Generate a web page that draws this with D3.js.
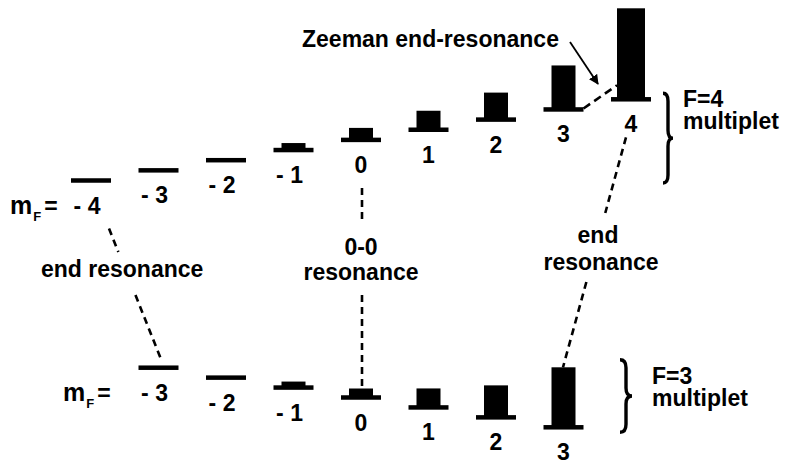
<!DOCTYPE html>
<html>
<head>
<meta charset="utf-8">
<script src="https://cdn.jsdelivr.net/npm/d3@7"></script>
<style>
  body { margin: 0; background: #fff; }
  svg text { font-family: "Liberation Sans", Arial, sans-serif; font-weight: bold; fill: #000; font-size: 23px; }
</style>
</head>
<body>
<svg id="chart"></svg>
<script>
// magnetic sublevels m_F and relative populations (bar heights)
var upperM = [-4, -3, -2, -1, 0, 1, 2, 3, 4];
var upperPop = [0, 0, 0, 7, 12, 19, 27, 44, 91];
var upperLabels = ["- 4", "- 3", "- 2", "- 1", "0", "1", "2", "3", "4"];
var lowerM = [-3, -2, -1, 0, 1, 2, 3];
var lowerPop = [0, 0, 6, 9, 19, 32, 60];
var lowerLabels = ["- 3", "- 2", "- 1", "0", "1", "2", "3"];

var width = 787, height = 463;
var svg = d3.select("#chart").attr("width", width).attr("height", height);

var x = d3.scaleLinear().domain([-4, 4]).range([91, 631]);
var yUp = d3.scaleLinear().domain([-4, 4]).range([180.5, 99.3]);
var yLo = d3.scaleLinear().domain([-3, 3]).range([367.7, 427.3]);
var hScale = d3.scaleLinear().domain([0, 100]).range([0, 100]);

var lineW = 40, lineT = 4.5;

function drawMultiplet(ms, pops, labels, y) {
  var data = ms.map(function (m, i) { return { m: m, p: pops[i], label: labels[i] }; });
  var g = svg.append("g");
  // population blocks
  g.selectAll("rect.block")
    .data(data.filter(function (d) { return d.p > 0; }))
    .enter()
    .append("rect")
    .attr("class", "block")
    .attr("x", function (d) { return x(d.m) - (d.p > 80 ? 14 : 12); })
    .attr("y", function (d) { return y(d.m) - hScale(d.p); })
    .attr("width", function (d) { return d.p > 80 ? 28 : 24; })
    .attr("height", function (d) { return hScale(d.p); })
    .attr("fill", "#000");
  // level lines
  g.selectAll("rect.level")
    .data(data)
    .enter()
    .append("rect")
    .attr("class", "level")
    .attr("x", function (d) { return x(d.m) - lineW / 2; })
    .attr("y", function (d) { return y(d.m) - lineT / 2; })
    .attr("width", lineW)
    .attr("height", lineT)
    .attr("fill", "#000");
  // m_F labels
  g.selectAll("text")
    .data(data)
    .enter()
    .append("text")
    .attr("x", function (d) { return x(d.m) + (d.m < 0 ? -4 : 0); })
    .attr("y", function (d) { return y(d.m) + 33; })
    .attr("text-anchor", "middle")
    .text(function (d) { return d.label; });
}

drawMultiplet(upperM, upperPop, upperLabels, yUp);
drawMultiplet(lowerM, lowerPop, lowerLabels, yLo);

// "m_F =" row titles
function mfLabel(x0, yBase) {
  var t = svg.append("text").attr("x", x0).attr("y", yBase);
  t.append("tspan").style("font-size", "25px").text("m");
  t.append("tspan").attr("dx", 1).attr("dy", 7).style("font-size", "13px").text("F");
  t.append("tspan").attr("dx", 3).attr("dy", -7).text("=");
}
mfLabel(10, yUp(-4) + 33);
mfLabel(63, yLo(-3) + 33);

// dashed connectors, cut where the text sits
function along(p1, p2, yy) {
  var t = (yy - p1[1]) / (p2[1] - p1[1]);
  return [p1[0] + t * (p2[0] - p1[0]), yy];
}
function dashed(a, b, dash) {
  svg.append("line")
    .attr("x1", a[0]).attr("y1", a[1])
    .attr("x2", b[0]).attr("y2", b[1])
    .attr("stroke", "#000")
    .attr("stroke-width", 2.6)
    .attr("stroke-dasharray", dash || "7,5");
}
function dashedCut(p1, p2, cuts) {
  cuts.forEach(function (c) { dashed(along(p1, p2, c[0]), along(p1, p2, c[1])); });
}

// end resonance (left): upper -4 -> lower -3
var l1 = [x(-4) + 18, yUp(-4) + 48], l2 = [x(-3) + 3.5, yLo(-3) - 6];
dashedCut(l1, l2, [[l1[1], 252], [295, l2[1]]]);

// 0-0 resonance
var c1 = [x(0) + 1, yUp(0) + 48], c2 = [x(0) + 1, yLo(0) - hScale(lowerPop[3])];
dashedCut(c1, c2, [[c1[1], 224], [295, c2[1]]]);

// end resonance (right): lower 3 -> upper 4
var r1 = [x(3) - 0.5, yLo(3) - hScale(lowerPop[6])], r2 = [x(4) - 5, yUp(4) + 38];
dashedCut(r1, r2, [[r2[1], 213], [282, r1[1]]]);

// Zeeman end-resonance link 3 -> 4 in upper multiplet
dashed([x(3) + 20, yUp(3) - 1], [x(4) - 14, yUp(4) - 14], "8,5");

// arrow
svg.append("defs").append("marker")
  .attr("id", "arrow")
  .attr("viewBox", "0 0 10 10")
  .attr("refX", 9).attr("refY", 5)
  .attr("markerWidth", 5.5).attr("markerHeight", 5.5)
  .attr("orient", "auto")
  .append("path")
  .attr("d", "M0,0L10,5L0,10z")
  .attr("fill", "#000");
svg.append("line")
  .attr("x1", 570).attr("y1", 42)
  .attr("x2", 598).attr("y2", 84)
  .attr("stroke", "#000")
  .attr("stroke-width", 1.8)
  .attr("marker-end", "url(#arrow)");

// braces
function brace(x0, y0, y1, w) {
  var xm = x0 + w / 2, ym = (y0 + y1) / 2, r = 8;
  var d = "M" + x0 + "," + y0 +
    "Q" + xm + "," + y0 + " " + xm + "," + (y0 + r) +
    "L" + xm + "," + (ym - r) +
    "Q" + xm + "," + ym + " " + (x0 + w) + "," + ym +
    "Q" + xm + "," + ym + " " + xm + "," + (ym + r) +
    "L" + xm + "," + (y1 - r) +
    "Q" + xm + "," + y1 + " " + x0 + "," + y1;
  svg.append("path")
    .attr("d", d)
    .attr("fill", "none")
    .attr("stroke", "#000")
    .attr("stroke-width", 3.4);
}
brace(663, yUp(4) - 6, yUp(-4) + 2.5, 10);
brace(620, yLo(-3) - 8, yLo(3) + 5, 12);

// annotations (multi-line ones as tspans)
function label(lines, x0, y0, anchor, lh) {
  var t = svg.append("text")
    .attr("x", x0).attr("y", y0)
    .attr("text-anchor", anchor || "start");
  lines.forEach(function (s, i) {
    t.append("tspan").attr("x", x0).attr("dy", i ? lh : 0).text(s);
  });
}
label(["Zeeman end-resonance"], 302, 47);
label(["end resonance"], 41, 277);
label(["0-0", "resonance"], 361, 255, "middle", 25);
label(["end"], 598, 243, "middle");
label(["resonance"], 601, 270, "middle");
label(["F=4", "multiplet"], 683, 107, "start", 22);
label(["F=3", "multiplet"], 652, 384, "start", 22);
</script>
</body>
</html>
